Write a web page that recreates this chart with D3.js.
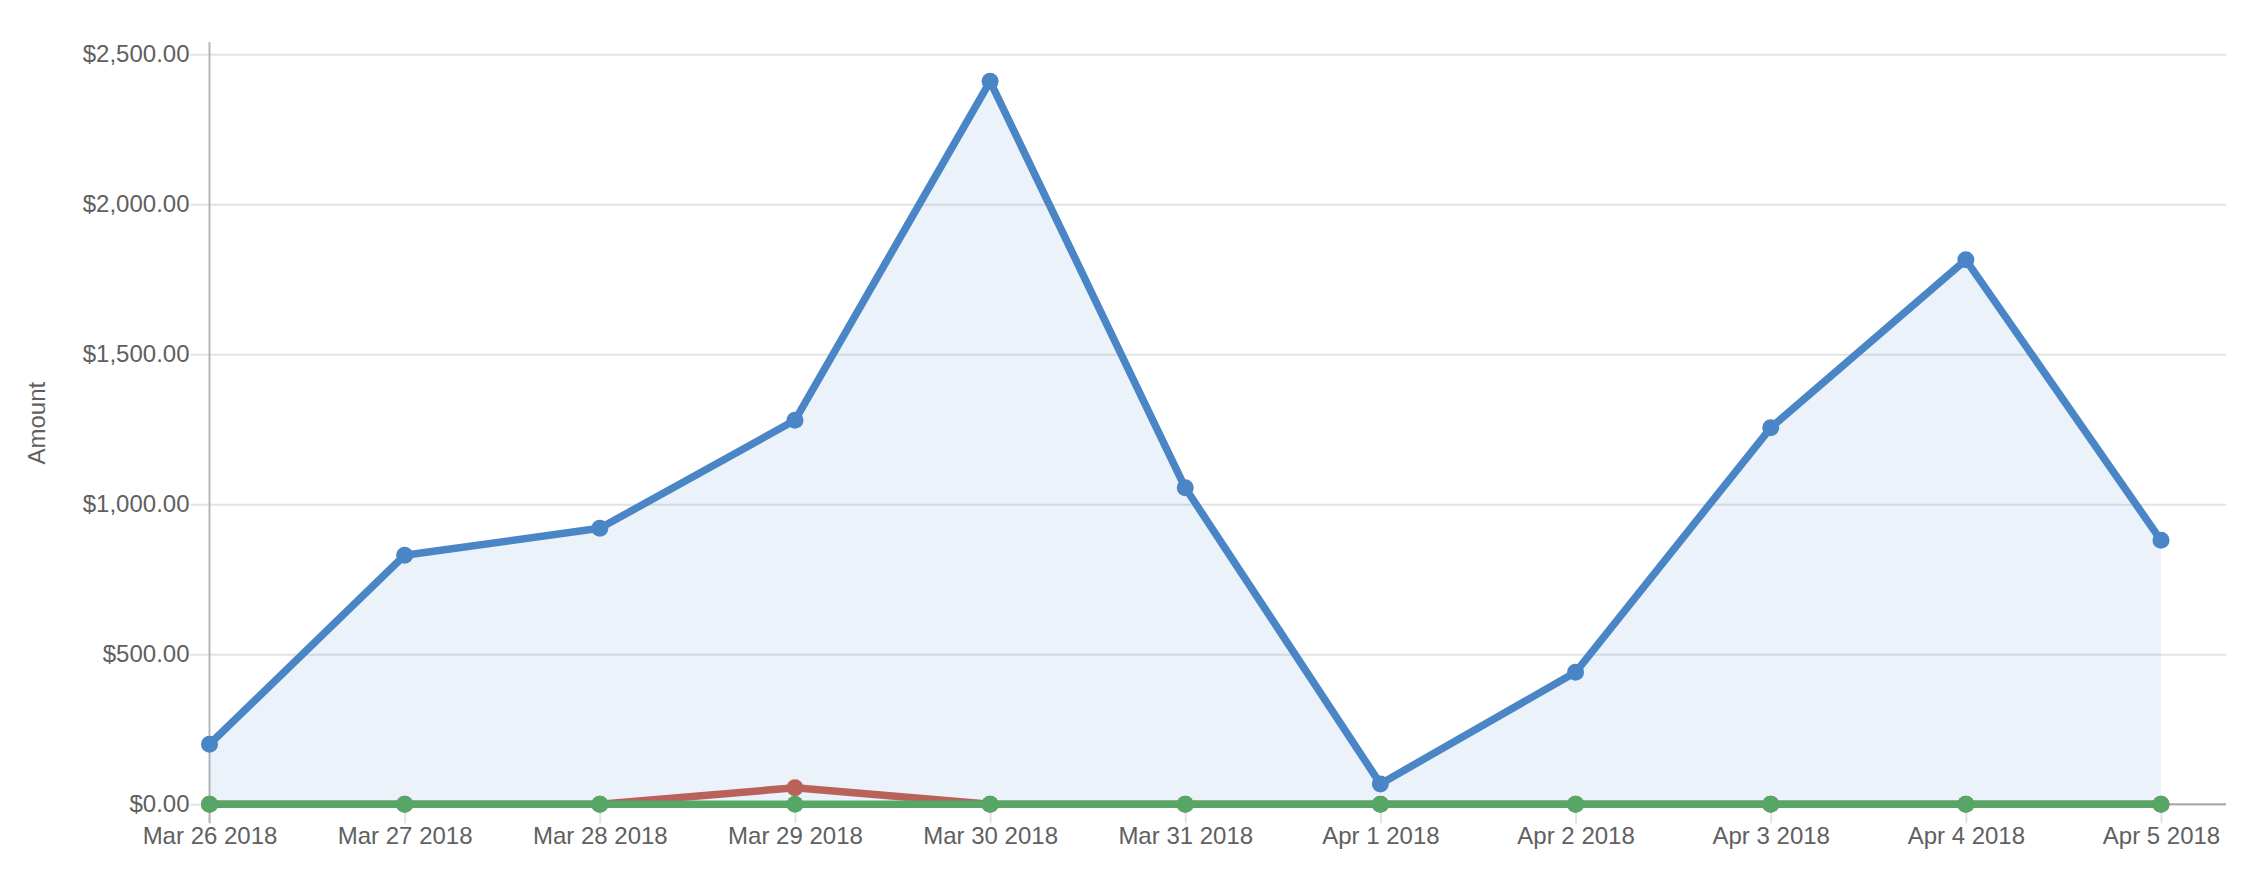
<!DOCTYPE html>
<html>
<head>
<meta charset="utf-8">
<script src="https://cdn.jsdelivr.net/npm/d3@7"></script>
<style>
  html, body { margin: 0; padding: 0; background: #fff; }
  svg { display: block; }
  text { font-family: "Liberation Sans", Arial, Helvetica, sans-serif; }
</style>
</head>
<body>
<svg id="chart" width="2254" height="873"></svg>
<script>
const dates = ["Mar 26 2018","Mar 27 2018","Mar 28 2018","Mar 29 2018","Mar 30 2018","Mar 31 2018","Apr 1 2018","Apr 2 2018","Apr 3 2018","Apr 4 2018","Apr 5 2018"];
const blueValues = [200, 830, 920, 1280, 2410, 1055, 68, 440, 1255, 1815, 880];
const redValues = [0, 0, 0, 55, 0, 0, 0, 0, 0, 0, 0];
const greenValues = [0, 0, 0, 0, 0, 0, 0, 0, 0, 0, 0];
const yTicks = [0, 500, 1000, 1500, 2000, 2500];
const yLabel = "Amount";

(function () {
const svg = d3.select("#chart");
const mLeft = 209.5, mRight = 2161, plotRight = 2226, mTop = 42, mBottom = 804.3;
const yMax = 2541;

const x = d3.scalePoint().domain(dates).range([mLeft, mRight]);
const y = d3.scaleLinear().domain([0, yMax]).range([mBottom, mTop]);

const fmt = v => "$" + d3.format(",.2f")(v);
const textColor = "#606060";
const gridColor = "#e3e3e3";

// horizontal gridlines + y ticks
const yAxis = d3.axisLeft(y).tickValues(yTicks).tickFormat(fmt)
  .tickSize(-(plotRight - mLeft)).tickPadding(22);
const gy = svg.append("g").attr("transform", `translate(${mLeft},0)`).call(yAxis);
gy.select(".domain").remove();
gy.selectAll(".tick line").attr("stroke", gridColor).attr("stroke-width", 2)
  .attr("x1", -19);
gy.selectAll(".tick text").attr("fill", textColor).attr("font-size", 24)
  .attr("dx", 2);

// vertical gridlines + x ticks
const xAxis = d3.axisBottom(x).tickSize(-(mBottom - mTop)).tickPadding(23);
const gx = svg.append("g").attr("transform", `translate(0,${mBottom})`).call(xAxis);
gx.select(".domain").remove();
gx.selectAll(".tick line").attr("stroke", gridColor).attr("stroke-width", 2)
  .attr("y2", 19);
gx.selectAll(".tick text").attr("fill", textColor).attr("font-size", 24);

// axis lines
svg.append("line").attr("x1", mLeft).attr("x2", mLeft).attr("y1", mTop).attr("y2", mBottom + 19)
  .attr("stroke", "#b8b8b8").attr("stroke-width", 2);
svg.append("line").attr("x1", mLeft).attr("x2", plotRight).attr("y1", y(0)).attr("y2", y(0))
  .attr("stroke", "#aaaaaa").attr("stroke-width", 2);

// y label
svg.append("text").attr("transform", `translate(37,${(mTop + mBottom) / 2}) rotate(-90)`)
  .attr("text-anchor", "middle").attr("dy", "0.35em")
  .attr("fill", textColor).attr("font-size", 24).text(yLabel);

// area for blue
const area = d3.area().x((d, i) => x(dates[i])).y0(y(0)).y1(d => y(d));
svg.append("path").datum(blueValues).attr("d", area)
  .attr("fill", "#4a86c6").attr("fill-opacity", 0.11);

const line = d3.line().x((d, i) => x(dates[i])).y(d => y(d));
const series = [
  { values: blueValues, color: "#4a86c6" },
  { values: redValues, color: "#b9625a" },
  { values: greenValues, color: "#56a766" }
];
series.forEach(s => {
  svg.append("path").datum(s.values).attr("d", line)
    .attr("fill", "none").attr("stroke", s.color).attr("stroke-width", 7.5)
    .attr("stroke-linejoin", "round").attr("stroke-linecap", "round");
  svg.append("g").selectAll("circle").data(s.values).join("circle")
    .attr("cx", (d, i) => x(dates[i])).attr("cy", d => y(d)).attr("r", 8.5)
    .attr("fill", s.color);
});
})();
</script>
</body>
</html>
